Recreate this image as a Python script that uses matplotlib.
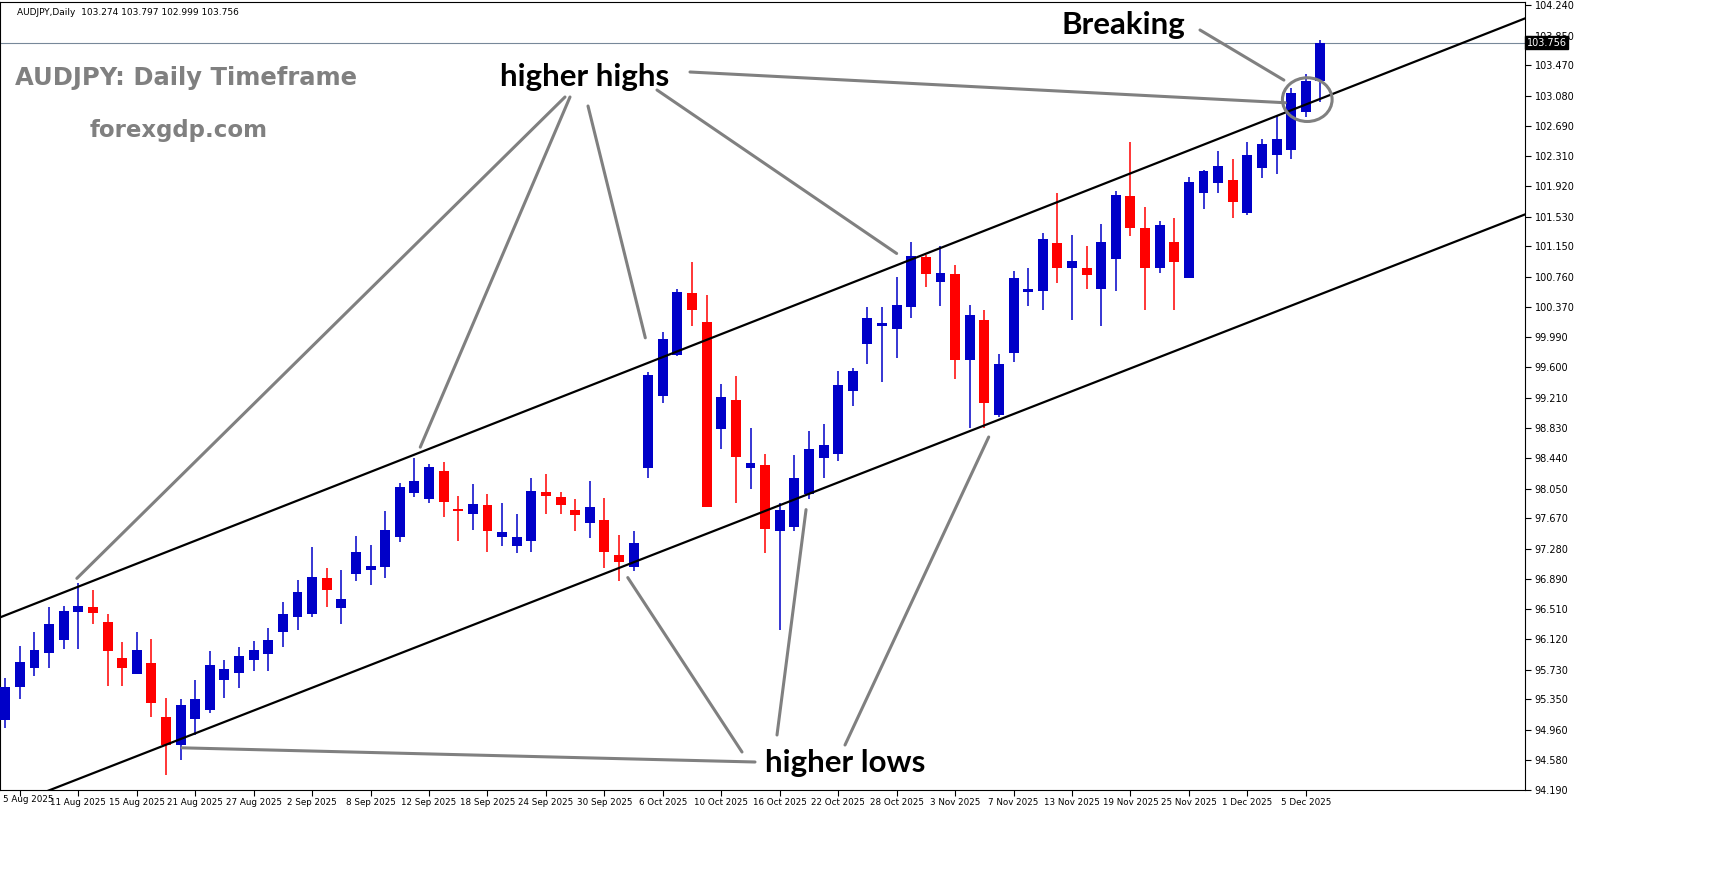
import matplotlib
matplotlib.use("Agg")
import matplotlib.pyplot as plt
from matplotlib.patches import Ellipse
import numpy as np
import pandas as pd

# AUDJPY daily candles, 4 Aug 2025 .. 8 Dec 2025
dates = pd.bdate_range("2025-08-04", "2025-12-08")
opens = [95.09, 95.51, 95.75, 95.94, 96.11, 96.47, 96.53, 96.34, 95.88, 95.68,
         95.82, 95.13, 94.76, 95.10, 95.22, 95.60, 95.69, 95.85, 95.93, 96.21,
         96.40, 96.44, 96.90, 96.52, 96.95, 97.01, 97.04, 97.43, 97.99, 97.91,
         98.28, 97.79, 97.73, 97.84, 97.43, 97.31, 97.38, 98.00, 97.94, 97.78,
         97.61, 97.65, 97.20, 97.04, 98.31, 99.24, 99.76, 100.55, 100.18, 98.81,
         99.18, 98.31, 98.35, 97.51, 97.56, 97.98, 98.44, 98.49, 99.30, 99.90,
         100.13, 100.09, 100.38, 101.02, 100.70, 100.80, 99.70, 100.21, 98.99, 99.79,
         100.57, 100.58, 101.19, 100.87, 100.88, 100.60, 100.99, 101.79, 101.39, 100.88,
         101.21, 100.75, 101.83, 101.96, 102.00, 101.58, 102.16, 102.32, 102.38, 102.87,
         103.274]
highs = [95.62, 96.04, 96.21, 96.53, 96.54, 96.84, 96.75, 96.45, 96.08, 96.21,
         96.12, 95.37, 95.35, 95.60, 95.97, 95.86, 96.02, 96.10, 96.26, 96.60,
         96.88, 97.30, 97.03, 97.01, 97.44, 97.33, 97.76, 98.12, 98.44, 98.36,
         98.39, 97.96, 98.11, 97.98, 97.86, 97.73, 98.19, 98.24, 98.00, 97.92,
         98.15, 97.93, 97.46, 97.51, 99.54, 100.05, 100.61, 100.95, 100.53, 99.39,
         99.49, 98.82, 98.49, 97.86, 98.48, 98.79, 98.88, 99.56, 99.59, 100.38,
         100.37, 100.76, 101.21, 101.04, 101.15, 100.91, 100.40, 100.33, 99.77, 100.83,
         100.88, 101.32, 101.83, 101.30, 101.15, 101.44, 101.86, 102.49, 101.66, 101.48,
         101.51, 102.04, 102.13, 102.37, 102.27, 102.49, 102.52, 102.83, 103.18, 103.36,
         103.797]
lows = [94.98, 95.36, 95.65, 95.75, 95.99, 95.99, 96.31, 95.52, 95.52, 95.67,
        95.13, 94.38, 94.57, 94.89, 95.17, 95.37, 95.49, 95.71, 95.71, 96.02,
        96.24, 96.40, 96.53, 96.31, 96.86, 96.81, 96.91, 97.37, 97.94, 97.86,
        97.69, 97.38, 97.52, 97.24, 97.31, 97.23, 97.24, 97.73, 97.72, 97.51,
        97.42, 97.03, 96.86, 96.99, 98.19, 99.15, 99.75, 100.13, 97.81, 98.55,
        97.86, 98.05, 97.23, 96.24, 97.50, 97.91, 98.19, 98.40, 99.11, 99.64,
        99.41, 99.72, 100.23, 100.63, 100.39, 99.45, 98.82, 98.83, 98.96, 99.67,
        100.39, 100.34, 100.68, 100.21, 100.60, 100.13, 100.58, 101.29, 100.34, 100.81,
        100.33, 100.74, 101.63, 101.83, 101.51, 101.55, 102.02, 102.08, 102.27, 102.81,
        102.999]
closes = [95.51, 95.83, 95.98, 96.32, 96.48, 96.54, 96.46, 95.97, 95.75, 95.98,
          95.30, 94.76, 95.28, 95.35, 95.79, 95.745, 95.91, 95.98, 96.11, 96.45,
          96.73, 96.92, 96.75, 96.64, 97.24, 97.06, 97.52, 98.07, 98.15, 98.33,
          97.88, 97.76, 97.85, 97.50, 97.49, 97.43, 98.02, 97.96, 97.84, 97.71,
          97.82, 97.24, 97.11, 97.35, 99.50, 99.96, 100.57, 100.33, 97.82, 99.22,
          98.46, 98.38, 97.53, 97.78, 98.18, 98.56, 98.61, 99.37, 99.55, 100.23,
          100.17, 100.40, 101.03, 100.80, 100.81, 99.69, 100.27, 99.15, 99.64, 100.74,
          100.61, 101.25, 100.88, 100.97, 100.79, 101.21, 101.81, 101.38, 100.88, 101.43,
          100.95, 101.97, 102.12, 102.18, 101.72, 102.32, 102.46, 102.52, 103.11, 103.27,
          103.756]

yticks = [104.240, 103.850, 103.470, 103.080, 102.690, 102.310, 101.920, 101.530,
          101.150, 100.760, 100.370, 99.990, 99.600, 99.210, 98.830, 98.440, 98.050,
          97.670, 97.280, 96.890, 96.510, 96.120, 95.730, 95.350, 94.960, 94.580, 94.190]

# channel lines (bar index, price)
upper_x, upper_y = [-0.36, 104.0], [96.40, 104.07]
lower_x, lower_y = [-0.36, 104.0], [93.94, 101.56]

W, H = 1714, 888
fig = plt.figure(figsize=(W / 100, H / 100), dpi=100)
ax = fig.add_axes([0.0, 1 - 790 / H, 1525 / W, 788 / H])
ax.set_xlim(-0.36, 104.0)
ax.set_ylim(94.19, 104.28)

idx = np.arange(len(opens))
o, h, l, c = map(np.array, (opens, highs, lows, closes))
cols = np.where(c >= o, "#0000C8", "#FF0000")
ax.vlines(idx, l, h, colors=cols, linewidth=1.1, zorder=2)
body_lo = np.minimum(o, c)
body_h = np.maximum(np.abs(c - o), 0.03)
ax.bar(idx, body_h, bottom=body_lo, width=0.68, color=cols, zorder=3)

ax.plot(upper_x, upper_y, color="black", lw=1.6, zorder=4)
ax.plot(lower_x, lower_y, color="black", lw=1.6, zorder=4)
ax.axhline(closes[-1], color="#778899", lw=0.8, zorder=1)

# axes styling
for s in ax.spines.values():
    s.set_linewidth(0.8)
ax.yaxis.tick_right()
ax.set_yticks(yticks)
ax.set_yticklabels([f"{v:.3f}" for v in yticks], fontsize=7)
ax.tick_params(axis="y", direction="out", length=4, pad=3)
tick_pos = list(range(1, len(dates), 4))
xlab = [f"{dates[i].day} {dates[i].strftime('%b %Y')}" for i in tick_pos]
ax.set_xticks(tick_pos)
ax.set_xticklabels([""] + xlab[1:], fontsize=6.3)
# first date label sits flush with the left edge, as in the terminal
ax.text(0.002, -0.006, xlab[0], transform=ax.transAxes, fontsize=6.3, va="top", ha="left")
ax.tick_params(axis="x", direction="out", length=4, pad=2)
ax.text(1.001, closes[-1], f"{closes[-1]:.3f}", transform=ax.get_yaxis_transform(),
        fontsize=7, color="white", va="center", ha="left", zorder=10,
        bbox=dict(boxstyle="square,pad=0.15", fc="black", ec="black"))
ax.text(0.011, 0.992, "AUDJPY,Daily  103.274 103.797 102.999 103.756", transform=ax.transAxes,
        fontsize=6.5, va="top", ha="left")

# titles
fig.text(15 / W, 1 - 78 / H, "AUDJPY: Daily Timeframe", fontsize=17.5, fontweight="bold",
         color="#808080", va="center", ha="left")
fig.text(90 / W, 1 - 130 / H, "forexgdp.com", fontsize=16.5, fontweight="bold",
         color="#808080", va="center", ha="left")
lab = dict(fontsize=22.5, fontweight="bold", family=["Lato", "DejaVu Sans"], va="center", ha="left")
fig.text(500 / W, 1 - 77 / H, "higher highs", **lab)
fig.text(1062 / W, 1 - 25 / H, "Breaking", **lab)
fig.text(765 / W, 1 - 763 / H, "higher lows", **lab)

def pointer(start_px, target):
    ax.annotate("", xy=target, xycoords="data", xytext=(start_px[0], H - start_px[1]),
                textcoords="figure pixels", annotation_clip=False,
                arrowprops=dict(arrowstyle="-", color="#808080", lw=2.2, shrinkA=0, shrinkB=0))

pointer((565, 97), (4.9, 96.9))
pointer((570, 97), (28.4, 98.58))
pointer((588, 106), (43.8, 99.98))
pointer((657, 90), (61.0, 101.06))
pointer((690, 72), (87.6, 102.99))
pointer((1200, 30), (87.5, 103.28))
pointer((755, 762), (12.1, 94.73))
pointer((742, 752), (42.6, 96.91))
pointer((777, 735), (54.8, 97.78))
pointer((845, 745), (67.3, 98.71))

ax.add_patch(Ellipse((89.1, 103.03), 3.4, 0.56, fill=False, ec="#808080", lw=2.2, zorder=5))

fig.savefig("out.png", dpi=100, facecolor="white")
